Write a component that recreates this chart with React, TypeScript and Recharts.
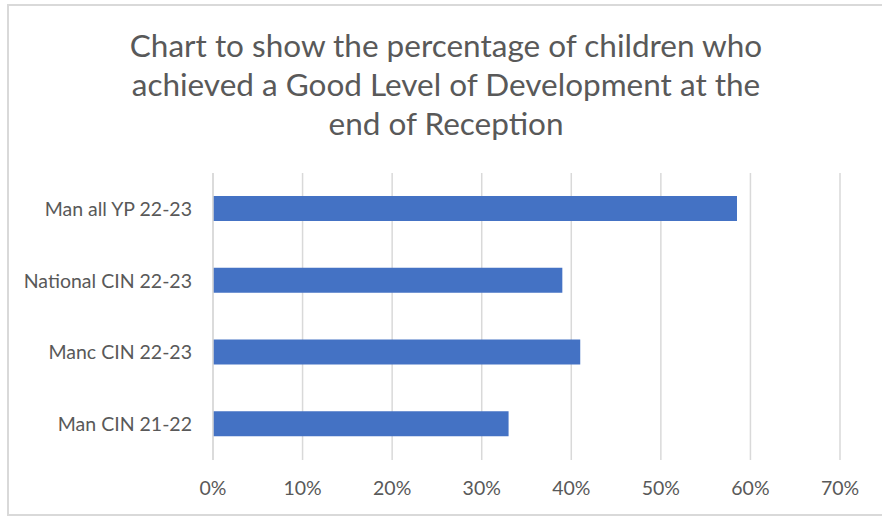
import { BarChart, Bar, XAxis, YAxis, CartesianGrid } from "recharts";

const categories = [
  "Man all YP 22-23",
  "National CIN 22-23",
  "Manc CIN 22-23",
  "Man CIN 21-22",
];
const gldValues = [0.585, 0.39, 0.41, 0.33];
const xTicks = [0, 0.1, 0.2, 0.3, 0.4, 0.5, 0.6, 0.7];
const titleLines = [
  "Chart to show the percentage of children who",
  "achieved a Good Level of Development at the",
  "end of Reception",
];

const chartData = categories.map(function (name, i) {
  return { name: name, value: gldValues[i] };
});

const FONT = "Lato, 'Open Sans', sans-serif";
const TEXT = "#595959";

export default function App() {
  return (
    <div
      style={{
        position: "absolute",
        left: 0,
        top: 0,
        width: 882,
        height: 516,
        background: "#fff",
        overflow: "hidden",
        fontFamily: FONT,
      }}
    >
      <div
        style={{
          position: "absolute",
          left: 7,
          top: 4,
          width: 900,
          height: 508,
          border: "2px solid #d9d9d9",
        }}
      />
      {titleLines.map(function (line, i) {
        return (
          <div
            key={i}
            style={{
              position: "absolute",
              left: 0,
              width: 892,
              top: 45 + i * 39 - 20,
              height: 40,
              lineHeight: "40px",
              textAlign: "center",
              fontSize: 31.5,
              color: TEXT,
              whiteSpace: "nowrap",
            }}
          >
            {line}
          </div>
        );
      })}
      <div style={{ position: "absolute", left: 0, top: 0 }}>
        <BarChart
          width={882}
          height={516}
          data={chartData}
          layout="vertical"
          margin={{ top: 173, right: 42, left: 0, bottom: 26 }}
        >
          <CartesianGrid
            horizontal={false}
            vertical={true}
            stroke="#d9d9d9"
            strokeWidth={1.5}
          />
          <XAxis
            type="number"
            domain={[0, 0.7]}
            ticks={xTicks}
            tickFormatter={function (v: number) {
              return Math.round(v * 100) + "%";
            }}
            axisLine={false}
            tickLine={false}
            tickSize={0}
            tickMargin={21}
            height={30}
            tick={{ fill: TEXT, fontSize: 19.5, fontFamily: FONT }}
          />
          <YAxis
            type="category"
            dataKey="name"
            width={213}
            axisLine={{ stroke: "#d9d9d9", strokeWidth: 1.5 }}
            tickLine={false}
            tickSize={0}
            tickMargin={21}
            tick={{ fill: TEXT, fontSize: 19.5, fontFamily: FONT }}
          />
          <Bar
            dataKey="value"
            fill="#4472c4"
            barSize={25}
            isAnimationActive={false}
          />
        </BarChart>
      </div>
    </div>
  );
}
